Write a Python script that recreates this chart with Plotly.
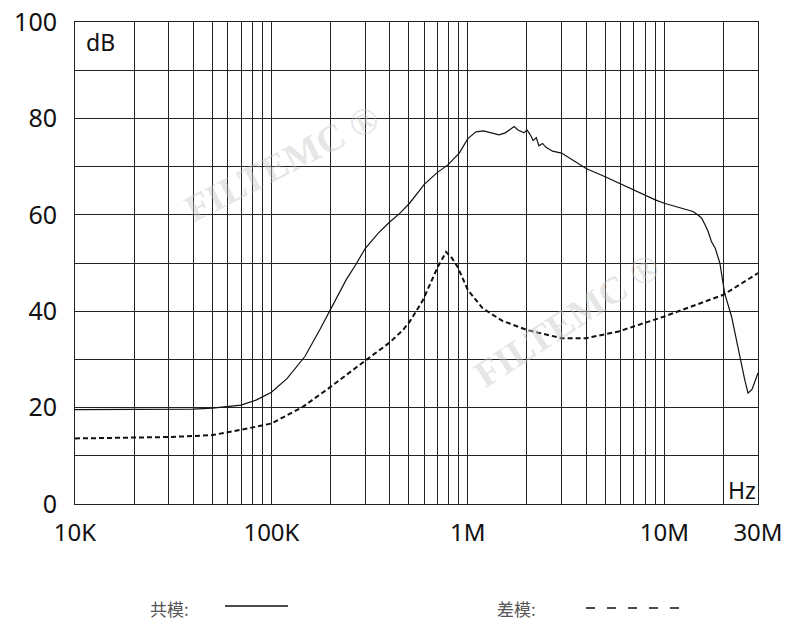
import plotly.graph_objects as go

# Common-mode (solid) curve, frequency in Hz and attenuation in dB
cm_freq = [10e3, 20e3, 30e3, 40e3, 50e3, 61.7e3, 70e3, 84e3, 100e3,
           120e3, 148e3, 176e3, 201e3, 240e3, 271e3, 300e3, 350e3, 400e3,
           450e3, 505e3, 600e3, 700e3, 789e3, 904e3, 1.0e6, 1.1e6, 1.2e6, 1.3e6,
           1.44e6, 1.55e6, 1.65e6, 1.72e6, 1.8e6, 1.93e6, 2.0e6, 2.08e6, 2.15e6, 2.23e6,
           2.3e6, 2.4e6, 2.5e6, 2.7e6, 3.0e6, 3.5e6, 4.0e6, 5.0e6, 7.0e6,
           9.0e6, 10e6, 12e6, 13.3e6, 14.0e6, 14.9e6, 15.5e6, 16.1e6, 16.7e6,
           17.4e6, 18.2e6, 19.2e6, 20.3e6, 22e6, 23.8e6, 25.7e6, 26.7e6, 28e6, 30e6]
cm_db = [19.6, 19.6, 19.6, 19.7, 19.9, 20.2, 20.5, 21.6, 23.2,
         26.0, 30.6, 36.1, 40.6, 46.5, 49.9, 53.0, 56.2, 58.5,
         60.3, 62.4, 66.3, 68.8, 70.3, 72.8, 75.8, 77.2, 77.4, 77.0,
         76.6, 77.0, 77.8, 78.3, 77.6, 77.0, 77.6, 76.6, 75.4, 76.0,
         74.3, 74.8, 74.0, 73.2, 72.8, 71.0, 69.6, 67.9, 65.1,
         63.1, 62.4, 61.4, 60.9, 60.7, 59.9, 59.3, 58.0, 56.6,
         54.4, 53.0, 49.9, 43.7, 38.9, 32.0, 25.7, 23.0, 23.8, 27.2]

# Differential-mode (dashed) curve
dm_freq = [10e3, 20e3, 30e3, 40e3, 50e3, 70e3, 100e3, 145e3, 200e3, 304e3,
           400e3, 467e3, 505e3, 589e3, 703e3, 775e3, 830e3, 887e3, 1.0e6,
           1.19e6, 1.5e6, 2.0e6, 3.0e6, 4.0e6, 5.85e6, 10e6, 20e6, 30e6]
dm_db = [13.6, 13.7, 13.9, 14.1, 14.3, 15.4, 16.7, 20.2, 24.3, 29.9,
         33.5, 36.1, 37.8, 42.2, 49.2, 52.3, 51.0, 49.2, 44.4,
         40.6, 38.0, 36.1, 34.4, 34.4, 35.8, 38.9, 43.4, 47.9]

x_tick_vals = [1e4, 1e5, 1e6, 1e7, 3e7]
x_tick_text = ["10K", "100K", "1M", "10M", "30M"]
y_tick_vals = [0, 20, 40, 60, 80, 100]

x_minor = [m * d for d in (1e4, 1e5, 1e6) for m in range(2, 10)] + [2e7]

LATIN = "Noto Sans"
CJK = "Noto Sans CJK SC"
GRID = "#222222"

PL, PT, PR, PB = 75, 22, 758, 504  # plot area in screen pixels
W, H = 785, 624


def px(sx):
    return (sx - PL) / (PR - PL)


def py(sy):
    return (PB - sy) / (PB - PT)


fig = go.Figure()
fig.add_trace(go.Scatter(x=cm_freq, y=cm_db, mode="lines",
                         line=dict(color="#111111", width=1.2),
                         name="共模", showlegend=False))
fig.add_trace(go.Scatter(x=dm_freq, y=dm_db, mode="lines",
                         line=dict(color="#111111", width=2, dash="5px,3px"),
                         name="差模", showlegend=False))

fig.update_layout(
    width=W, height=H,
    margin=dict(l=PL, r=W - PR, t=PT, b=H - PB),
    paper_bgcolor="white", plot_bgcolor="white",
    font=dict(family=LATIN, color="#111111"),
    xaxis=dict(type="log", range=[4, 7.47712], tickvals=x_tick_vals,
               ticktext=x_tick_text, showgrid=True, gridcolor=GRID, gridwidth=1,
               minor=dict(tickvals=x_minor, showgrid=True, gridcolor=GRID, gridwidth=1, ticklen=0),
               ticks="", showline=True, linecolor=GRID, linewidth=1, mirror=True,
               zeroline=False, tickfont=dict(size=24, family=LATIN, color="#111111"),
               ticklabelstandoff=7, automargin=False, ticklabeloverflow="allow"),
    yaxis=dict(range=[0, 100], tickvals=y_tick_vals, showgrid=True,
               gridcolor=GRID, gridwidth=1,
               minor=dict(dtick=10, showgrid=True, gridcolor=GRID, gridwidth=1, ticklen=0),
               ticks="", showline=True, linecolor=GRID, linewidth=1, mirror=True,
               zeroline=False, tickfont=dict(size=25, family=LATIN, color="#111111"),
               ticklabelstandoff=12, automargin=False, ticklabeloverflow="allow"),
)

annotations = [
    dict(text="dB", xref="paper", yref="paper", x=px(84), y=py(42), xanchor="left",
         yanchor="middle", showarrow=False, font=dict(size=23, family=LATIN, color="#111111")),
    dict(text="Hz", xref="paper", yref="paper", x=px(758), y=py(490), xanchor="right",
         yanchor="middle", showarrow=False, font=dict(size=23, family=LATIN, color="#111111")),
    dict(text="共模:", xref="paper", yref="paper", x=px(148), y=py(608),
         xanchor="left", yanchor="middle", showarrow=False,
         font=dict(size=17, family=CJK, color="#555555")),
    dict(text="差模:", xref="paper", yref="paper", x=px(495), y=py(608),
         xanchor="left", yanchor="middle", showarrow=False,
         font=dict(size=17, family=CJK, color="#555555")),
    dict(text="FILTEMC ®", xref="paper", yref="paper", x=px(282), y=py(163),
         xanchor="center", yanchor="middle", showarrow=False, textangle=-27,
         font=dict(size=38, family="Liberation Serif", weight="bold",
                   color="rgba(200,200,200,0.45)")),
    dict(text="FILTEMC ®", xref="paper", yref="paper", x=px(567), y=py(320),
         xanchor="center", yanchor="middle", showarrow=False, textangle=-33,
         font=dict(size=38, family="Liberation Serif", weight="bold",
                   color="rgba(200,200,200,0.45)")),
]
fig.update_layout(annotations=annotations)

shapes = [
    dict(type="line", xref="paper", yref="paper",
         x0=px(225), x1=px(288), y0=py(606), y1=py(606),
         line=dict(color="#111111", width=1.5)),
    dict(type="line", xref="paper", yref="paper",
         x0=px(586), x1=px(684), y0=py(608), y1=py(608),
         line=dict(color="#111111", width=1.5, dash="9px,12px")),
]
fig.update_layout(shapes=shapes)

# Remove the default 8px page margin so the figure sits at the window's corner.
fig.write_html("out.html", config={"displayModeBar": False},
               post_script="document.body.style.margin='0px';")
